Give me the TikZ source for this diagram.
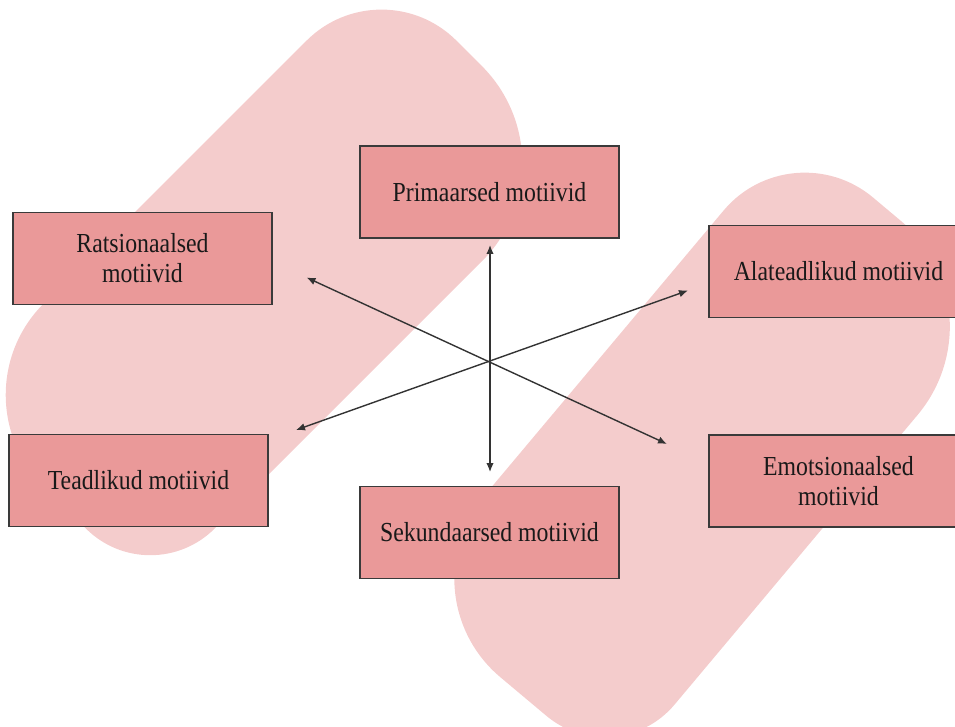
\documentclass[tikz,border=0pt]{standalone}
\usepackage{fontspec}
\setmainfont{Liberation Serif}[FakeStretch=0.865]
\usetikzlibrary{arrows.meta}
\definecolor{pillpink}{HTML}{F4CCCC}
\definecolor{boxpink}{HTML}{EA9999}
\definecolor{edgegray}{HTML}{3A3A3A}
\newcommand\blobpath{(303.5,34) arc[start angle=0,end angle=90,radius=106pt]
  -- (-174.5,140) arc[start angle=90,end angle=180,radius=129pt]
  -- (-303.5,-49) arc[start angle=180,end angle=270,radius=91pt]
  -- (165.5,-140) arc[start angle=270,end angle=360,radius=138pt]
  -- cycle}
\begin{document}
\begin{tikzpicture}[x=1pt,y=1pt,
  motive/.style={draw=edgegray, line width=1.3pt, fill=boxpink,
    minimum width=259pt, minimum height=92pt, inner sep=0pt, align=center,
    font=\fontsize{27.5}{30}\selectfont, text=black!90},
  arr/.style={draw=black!80, line width=1.4pt,
    {Latex[length=9pt,width=7.5pt]}-{Latex[length=9pt,width=7.5pt]}},
  blob/.style={fill=pillpink}
]
\useasboundingbox (0,0) rectangle (955,-727);
\clip (0,0) rectangle (955,-727);
\begin{scope}[shift={(265.9,-279.3)},rotate=45]
  \fill[blob] \blobpath;
\end{scope}
\begin{scope}[shift={(703.9,-451.8)},rotate=50]
  \fill[blob] \blobpath;
\end{scope}
\node[motive] (prim) at (489.5,-192) {Primaarsed motiivid};
\node[motive] (rat) at (142.5,-258.5) {Ratsionaalsed\\motiivid};
\node[motive] (ala) at (838.5,-271.5) {Alateadlikud motiivid};
\node[motive] (tea) at (138.5,-480.5) {Teadlikud motiivid};
\node[motive] (sek) at (489.5,-532.5) {Sekundaarsed motiivid};
\node[motive] (emo) at (838.5,-481) {Emotsionaalsed\\motiivid};
\coordinate (tTop) at (490,-245);
\coordinate (tBot) at (490,-472);
\coordinate (tRat) at (306.5,-277.5);
\coordinate (tEmo) at (667,-444);
\coordinate (tTea) at (296,-430);
\coordinate (tAla) at (688,-290.5);
\draw[arr] (tTop) -- (tBot);
\draw[arr] (tRat) -- (tEmo);
\draw[arr] (tTea) -- (tAla);
\end{tikzpicture}
\end{document}
